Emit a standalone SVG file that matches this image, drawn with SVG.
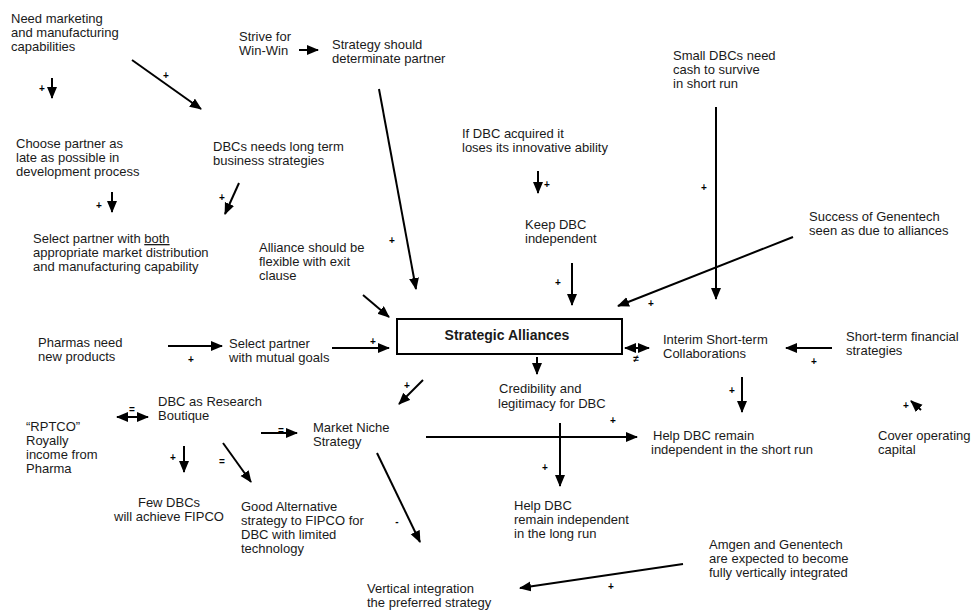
<svg xmlns="http://www.w3.org/2000/svg" width="971" height="612" viewBox="0 0 971 612">
<defs>
<marker id="ah" markerUnits="userSpaceOnUse" markerWidth="14" markerHeight="11" refX="11" refY="5" orient="auto-start-reverse" viewBox="0 0 14 11">
<path d="M0,0 L12,5 L0,10 z" fill="#000"/>
</marker>
<style>
text{font-family:"Liberation Sans",Arial,Helvetica,sans-serif;font-size:13px;fill:#1a1a1a}
.b{font-weight:bold;font-size:14px}
.l{font-size:10px;text-anchor:middle;font-weight:bold;fill:#000}
.c line{stroke:#000;stroke-width:2;marker-end:url(#ah)}
.c line.d{marker-start:url(#ah)}
</style>
</defs>
<rect width="971" height="612" fill="#fff"/>

<g id="n1"><text x="11" y="23">Need marketing</text><text x="11" y="37">and manufacturing</text><text x="11" y="51">capabilities</text></g>
<g id="n2"><text x="16" y="148">Choose partner as</text><text x="16" y="162">late as possible in</text><text x="16" y="176">development process</text></g>
<g id="n3"><text x="33" y="243">Select partner with <tspan text-decoration="underline">both</tspan></text><text x="33" y="257">appropriate market distribution</text><text x="33" y="271">and manufacturing capability</text></g>
<g id="n4"><text x="239" y="41">Strive for</text><text x="239" y="55">Win-Win</text></g>
<g id="n5"><text x="332" y="49">Strategy should</text><text x="332" y="63">determinate partner</text></g>
<g id="n6"><text x="213" y="151">DBCs needs long term</text><text x="213" y="165">business strategies</text></g>
<g id="n7"><text x="259" y="252">Alliance should be</text><text x="259" y="266">flexible with exit</text><text x="259" y="280">clause</text></g>
<g id="n8"><text x="462" y="138">If DBC acquired it</text><text x="462" y="152">loses its innovative ability</text></g>
<g id="n9"><text x="525" y="229">Keep DBC</text><text x="525" y="243">independent</text></g>
<g id="n10"><text x="673" y="60">Small DBCs need</text><text x="673" y="74">cash to survive</text><text x="673" y="88">in short run</text></g>
<g id="n11"><text x="809" y="221">Success of Genentech</text><text x="809" y="235">seen as due to alliances</text></g>
<g id="n12"><text x="38" y="347">Pharmas need</text><text x="38" y="361">new products</text></g>
<g id="n13"><text x="229" y="348">Select partner</text><text x="229" y="362">with mutual goals</text></g>
<g id="n14"><rect x="397" y="319" width="225" height="35" fill="#fff" stroke="#000" stroke-width="2"/><text class="b" x="507" y="340" text-anchor="middle">Strategic Alliances</text></g>
<g id="n15"><text x="663" y="344">Interim Short-term</text><text x="663" y="358">Collaborations</text></g>
<g id="n16"><text x="846" y="341">Short-term financial</text><text x="846" y="355">strategies</text></g>
<g id="n17"><text x="158" y="406">DBC as Research</text><text x="158" y="420">Boutique</text></g>
<g id="n18"><text x="26" y="431">“RPTCO”</text><text x="26" y="445">Royally</text><text x="26" y="459">income from</text><text x="26" y="473">Pharma</text></g>
<g id="n19"><text x="313" y="432">Market Niche</text><text x="313" y="446">Strategy</text></g>
<g id="n20"><text x="499" y="393">Credibility and</text><text x="498" y="408">legitimacy for DBC</text></g>
<g id="n21"><text x="653" y="440">Help DBC remain</text><text x="651" y="454">independent in the short run</text></g>
<g id="n22"><text x="878" y="440">Cover operating</text><text x="878" y="454">capital</text></g>
<g id="n23"><text x="169" y="507" text-anchor="middle">Few DBCs</text><text x="169" y="521" text-anchor="middle">will achieve FIPCO</text></g>
<g id="n24"><text x="241" y="511">Good Alternative</text><text x="241" y="525">strategy to FIPCO for</text><text x="241" y="539">DBC with limited</text><text x="241" y="553">technology</text></g>
<g id="n25"><text x="514" y="510">Help DBC</text><text x="514" y="524">remain independent</text><text x="514" y="538">in the long run</text></g>
<g id="n26"><text x="709" y="549">Amgen and Genentech</text><text x="709" y="563">are expected to become</text><text x="709" y="577">fully vertically integrated</text></g>
<g id="n27"><text x="367" y="593">Vertical integration</text><text x="367" y="607">the preferred strategy</text></g>

<g id="connectors" class="c">
<line x1="52" y1="78" x2="52" y2="98"/>
<line x1="132" y1="60" x2="201" y2="109"/>
<line x1="112" y1="192" x2="112" y2="212"/>
<line x1="239" y1="183" x2="225" y2="214"/>
<line x1="299" y1="50" x2="318" y2="50"/>
<line x1="379" y1="89" x2="416" y2="289"/>
<line x1="363" y1="295" x2="389" y2="317"/>
<line x1="538" y1="171" x2="538" y2="193"/>
<line x1="572" y1="263" x2="572" y2="305"/>
<line x1="716" y1="107" x2="716" y2="299"/>
<line x1="793" y1="237" x2="618" y2="306"/>
<line x1="168" y1="346" x2="222" y2="346"/>
<line x1="332" y1="348" x2="389" y2="348"/>
<line class="d" x1="625" y1="348" x2="649" y2="348"/>
<line x1="832" y1="348" x2="786" y2="348"/>
<line x1="742" y1="377" x2="742" y2="412"/>
<line x1="537" y1="357" x2="537" y2="374"/>
<line x1="423" y1="380" x2="399" y2="404"/>
<line class="d" x1="117" y1="417" x2="148" y2="417"/>
<line x1="261" y1="433" x2="297" y2="433"/>
<line x1="184" y1="446" x2="184" y2="472"/>
<line x1="223" y1="443" x2="251" y2="482"/>
<line x1="426" y1="437" x2="637" y2="437"/>
<line x1="560" y1="423" x2="560" y2="486"/>
<line x1="377" y1="453" x2="420" y2="542"/>
<line x1="683" y1="564" x2="520" y2="588"/>
<line x1="921" y1="410" x2="911" y2="401"/>
<text class="l" x="42" y="92">+</text>
<text class="l" x="166" y="79">+</text>
<text class="l" x="99" y="209">+</text>
<text class="l" x="222" y="201">+</text>
<text class="l" x="392" y="244">+</text>
<text class="l" x="547" y="188">+</text>
<text class="l" x="558" y="286">+</text>
<text class="l" x="704" y="191">+</text>
<text class="l" x="651" y="307">+</text>
<text class="l" x="191" y="363">+</text>
<text class="l" x="373" y="345">+</text>
<text class="l" x="636" y="362">≠</text>
<text class="l" x="814" y="365">+</text>
<text class="l" x="732" y="394">+</text>
<text class="l" x="407" y="389">+</text>
<text class="l" x="132" y="413">=</text>
<text class="l" x="281" y="434">=</text>
<text class="l" x="173" y="461">+</text>
<text class="l" x="222" y="465">=</text>
<text class="l" x="613" y="424">+</text>
<text class="l" x="545" y="471">+</text>
<text class="l" x="397" y="525">-</text>
<text class="l" x="611" y="590">+</text>
<text class="l" x="906" y="409">+</text>
</g>
</svg>
